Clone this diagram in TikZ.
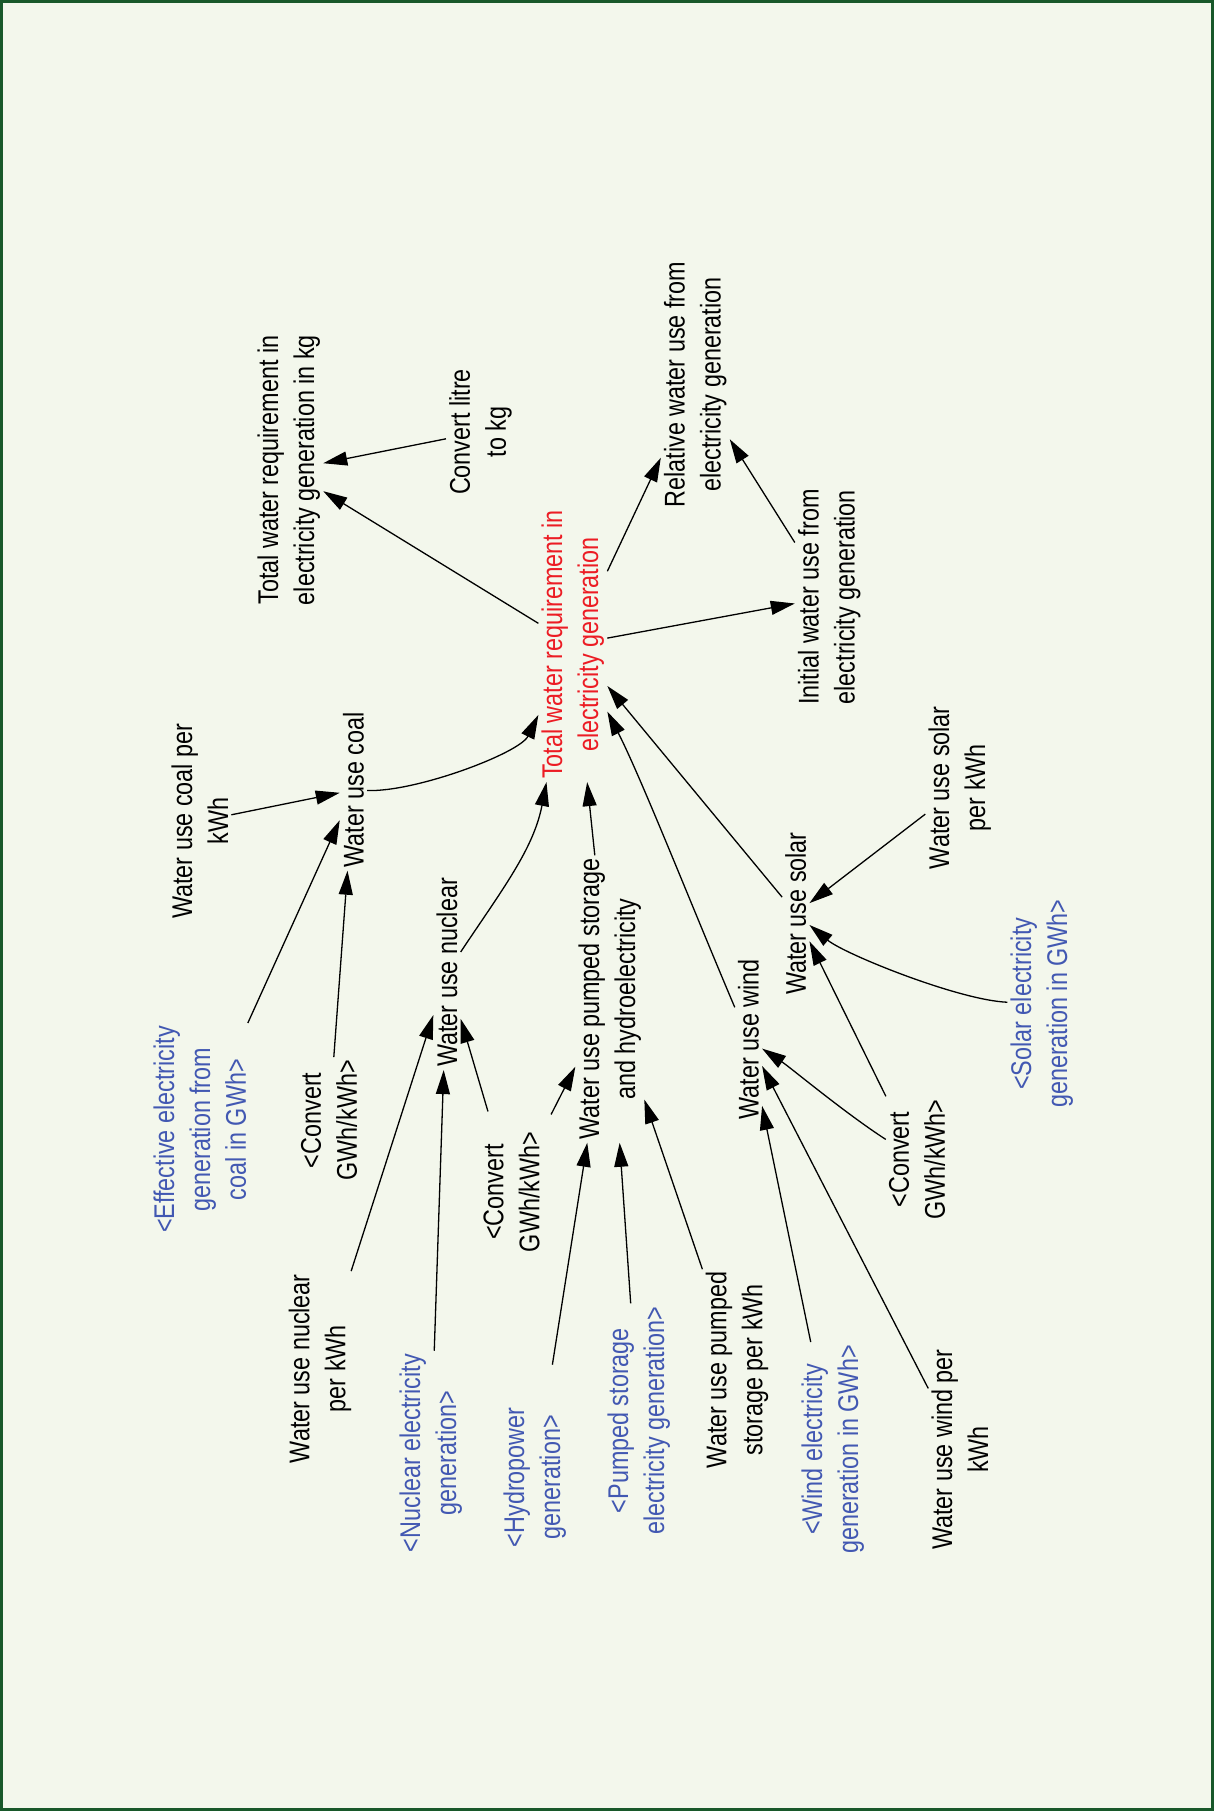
\documentclass[tikz,border=0pt]{standalone}
\usepackage{fontspec}
\setmainfont{Liberation Sans}[FakeStretch=0.82]
\usetikzlibrary{arrows.meta}
\definecolor{bgc}{RGB}{243,247,236}
\definecolor{framec}{RGB}{24,88,42}
\definecolor{vblue}{RGB}{66,88,178}
\definecolor{vred}{RGB}{236,28,36}
\begin{document}
\begin{tikzpicture}[x=1.155pt,y=-1.155pt,
  lbl/.style={rotate=90,align=center,inner sep=3pt,font=\fontsize{28.5}{36}\selectfont},
  shadowv/.style={lbl,text=vblue},
  keyv/.style={lbl,text=vred},
  arr/.style={-{Triangle[length=24pt,width=14pt]},line width=1.3pt,black}]
\useasboundingbox (0,0) rectangle (1051,1568);
\fill[bgc] (0,0) rectangle (1051,1568);
\draw[framec,line width=3pt] (1.5,1.2) rectangle (1049.8,1566.8);

\node[lbl] (kg) at (250,407) {Total water requirement in\\electricity generation in kg};
\node[lbl] (convlitre) at (416,374) {Convert litre\\to kg};
\node[lbl] (relative) at (602,333) {Relative water use from\\electricity generation};
\node[keyv] (red) at (496,558) {Total water requirement in\\electricity generation};
\node[lbl] (initial) at (718,517) {Initial water use from\\electricity generation};
\node[lbl] (coalkwh) at (173,711) {Water use coal per\\kWh};
\node[lbl] (coal) at (306,684) {Water use coal};
\node[lbl] (nuclear) at (387,842) {Water use nuclear};
\node[shadowv] (effective) at (173,978) {<Effective electricity\\generation from\\coal in GWh>};
\node[lbl] (convcoal) at (285,970) {<Convert\\GWh/kWh>};
\node[lbl] (pumped) at (528,865) {Water use pumped storage\\and hydroelectricity};
\node[lbl] (convnuc) at (443,1032) {<Convert\\GWh/kWh>};
\node[lbl] (wind) at (648,900) {Water use wind};
\node[lbl] (solar) at (689,791) {Water use solar};
\node[lbl] (solarkwh) at (831,682) {Water use solar\\per kWh};
\node[shadowv] (solargen) at (902,869) {<Solar electricity\\generation in GWh>};
\node[lbl] (convws) at (794,1004) {<Convert\\GWh/kWh>};
\node[lbl] (nuckwh) at (277,1185) {Water use nuclear\\per kWh};
\node[shadowv] (nucgen) at (373,1258) {<Nuclear electricity\\generation>};
\node[shadowv] (hydro) at (463,1279) {<Hydropower\\generation>};
\node[shadowv] (psgen) at (553,1230) {<Pumped storage\\electricity generation>};
\node[lbl] (pskwh) at (638,1186) {Water use pumped\\storage per kWh};
\node[shadowv] (windgen) at (721,1255) {<Wind electricity\\generation in GWh>};
\node[lbl] (windkwh) at (831,1255) {Water use wind per\\kWh};

\draw[arr] (red) -- (kg);
\draw[arr] (convlitre) -- (kg);
\draw[arr] (red) -- (relative);
\draw[arr] (red) -- (initial);
\draw[arr] (initial) -- (relative);
\draw[arr] (coalkwh) -- (coal);
\draw[arr] (coal) .. controls (360,686) and (450,652) .. (red);
\draw[arr] (effective) -- (coal);
\draw[arr] (convcoal) -- (coal);
\draw[arr] (nuclear) .. controls (435,770) and (462,735) .. (red);
\draw[arr] (nuckwh) -- (nuclear);
\draw[arr] (nucgen) -- (nuclear);
\draw[arr,shorten <=18pt] (convnuc) -- (nuclear);
\draw[arr,shorten <=18pt] (convnuc) -- (pumped);
\draw[arr] (pumped) -- (red);
\draw[arr,shorten <=40pt] (hydro) -- (pumped);
\draw[arr] (psgen) -- (pumped);
\draw[arr] (pskwh) -- (pumped);
\draw[arr] (wind) .. controls (600,787) and (555,673) .. (red);
\draw[arr] (solar) -- (red);
\draw[arr] (solarkwh) -- (solar);
\draw[arr] (solargen) .. controls (830,866) and (731,826) .. (solar);
\draw[arr] (convws) -- (solar);
\draw[arr] (convws) .. controls (732,964) and (684,924) .. (wind);
\draw[arr] (windkwh) -- (wind);
\draw[arr] (windgen) -- (wind);
\end{tikzpicture}
\end{document}
